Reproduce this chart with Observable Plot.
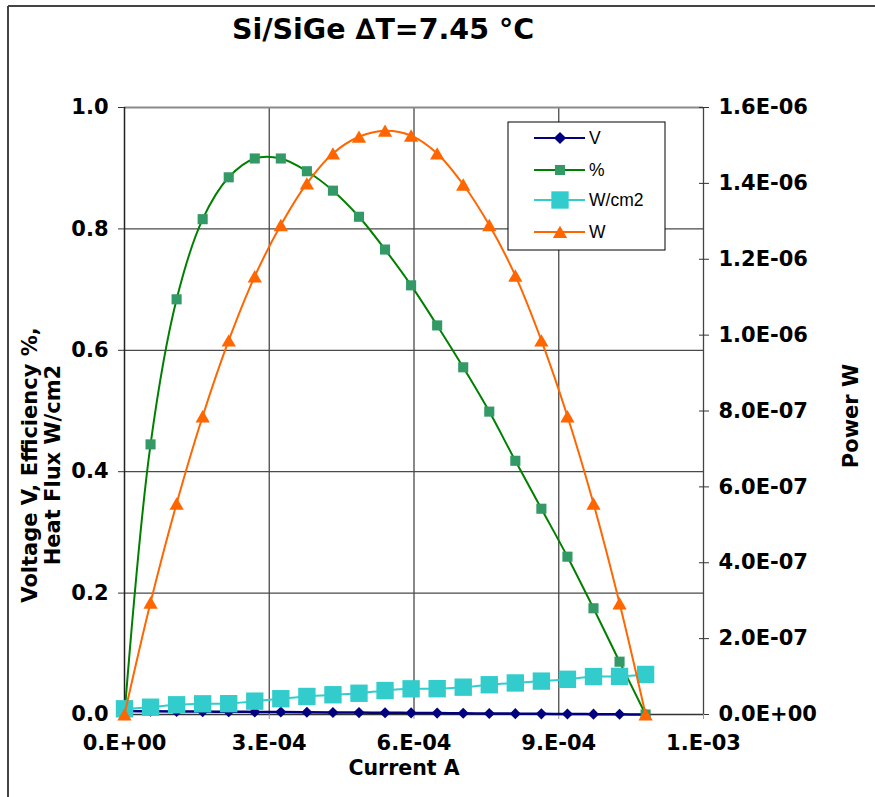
<!DOCTYPE html>
<html>
<head>
<meta charset="utf-8">
<script src="https://cdn.jsdelivr.net/npm/d3@7"></script>
<script src="https://cdn.jsdelivr.net/npm/@observablehq/plot@0.6"></script>
<style>
  html, body { margin: 0; padding: 0; background: #fff; }
  #wrap { position: relative; width: 875px; height: 797px; overflow: hidden; }
  #chart, #overlay { position: absolute; left: 0; top: 0; }
</style>
</head>
<body>
<div id="wrap">
  <div id="chart"></div>
  <svg id="overlay" width="875" height="797"></svg>
</div>
<script>
// ---- data ----
const current = [0, 0.000054, 0.000108, 0.000162, 0.000216, 0.00027, 0.000324, 0.000378, 0.000432, 0.000486,
  0.00054, 0.000594, 0.000648, 0.000702, 0.000756, 0.00081, 0.000864, 0.000918, 0.000972, 0.001026, 0.00108];
const voltage = [0.0057, 0.0054, 0.0051, 0.0048, 0.0046, 0.0043, 0.0040, 0.0037, 0.0034, 0.0031,
  0.0029, 0.0026, 0.0023, 0.0020, 0.0017, 0.0014, 0.0011, 0.0009, 0.0006, 0.0003, 0.0];
const efficiency = [0.0, 0.445, 0.684, 0.816, 0.885, 0.916, 0.916, 0.895, 0.863, 0.820,
  0.766, 0.707, 0.641, 0.572, 0.499, 0.418, 0.339, 0.260, 0.175, 0.087, 0.0];
const heatFlux = [0.0094, 0.012, 0.016, 0.0176, 0.0178, 0.022, 0.026, 0.0297, 0.0325, 0.035,
  0.0395, 0.0423, 0.0425, 0.045, 0.049, 0.052, 0.055, 0.058, 0.0625, 0.0628, 0.066];
const power = [0, 2.95e-7, 5.56e-7, 7.86e-7, 9.86e-7, 1.155e-6, 1.29e-6, 1.40e-6, 1.479e-6, 1.523e-6,
  1.539e-6, 1.526e-6, 1.479e-6, 1.397e-6, 1.29e-6, 1.157e-6, 9.86e-7, 7.86e-7, 5.56e-7, 2.93e-7, 0];

const xTicks = [0, 0.0003, 0.0006, 0.0009, 0.0012];
const xTickLabels = ["0.E+00", "3.E-04", "6.E-04", "9.E-04", "1.E-03"];
const leftTicks = [0, 0.2, 0.4, 0.6, 0.8, 1.0];
const leftTickLabels = ["0.0", "0.2", "0.4", "0.6", "0.8", "1.0"];
const powerTicks = [0, 2e-7, 4e-7, 6e-7, 8e-7, 1e-6, 1.2e-6, 1.4e-6, 1.6e-6];
const powerTickLabels = ["0.0E+00", "2.0E-07", "4.0E-07", "6.0E-07", "8.0E-07", "1.0E-06", "1.2E-06", "1.4E-06", "1.6E-06"];
const POWER_MAX = 1.6e-6;

const seriesNames = ["V", "%", "W/cm2", "W"];
const titleText = "Si/SiGe \u2206T=7.45 \u00B0C";
const xLabel = "Current A";
const leftLabelLines = ["Voltage V, Efficiency %,", "Heat Flux W/cm2"];
const rightLabel = "Power W";

// ---- styles ----
const C_V = "#000080", C_E_LINE = "#008000", C_E_MARK = "#339966", C_Q = "#33CCCC", C_P = "#FF6600";
const BOLD_FONT = "'DejaVu Sans', Verdana, sans-serif";

const rows = current.map((c, i) => ({c, v: voltage[i], e: efficiency[i], q: heatFlux[i], p: power[i]}));
const rightPos = powerTicks.map(p => p / POWER_MAX);

const chart = Plot.plot({
  width: 875, height: 797,
  marginTop: 107, marginBottom: 83, marginLeft: 124, marginRight: 172,
  style: {fontFamily: BOLD_FONT, fontSize: "21px", fontWeight: "bold", background: "transparent", color: "#000", overflow: "visible"},
  x: {domain: [0, 0.0012]},
  y: {domain: [0, 1]},
  marks: [
    Plot.gridY(leftTicks.slice(1, -1), {stroke: "#4a4a4a", strokeOpacity: 1, strokeWidth: 1.3}),
    Plot.gridX(xTicks.slice(1, -1), {stroke: "#4a4a4a", strokeOpacity: 1, strokeWidth: 1.3}),
    Plot.ruleY([1], {stroke: "#8a8a8a", strokeWidth: 2}),
    Plot.ruleY([0], {stroke: "#333", strokeWidth: 1.5}),
    Plot.ruleX([0], {stroke: "#222", strokeWidth: 1.5}),
    Plot.ruleX([0.0012], {stroke: "#444", strokeWidth: 1.3}),
    Plot.axisY(leftTicks, {anchor: "left", tickSize: 6, tickPadding: 10, stroke: "#333",
      tickFormat: d => leftTickLabels[leftTicks.indexOf(d)], label: null}),
    Plot.axisY(rightPos, {anchor: "right", tickSize: 10, insetRight: 5, tickPadding: 10, stroke: "#333",
      tickFormat: d => powerTickLabels[rightPos.indexOf(d)], label: null, textAnchor: "start"}),
    Plot.axisX(xTicks, {anchor: "bottom", tickSize: 5, tickPadding: 16, stroke: "#999",
      tickFormat: d => xTickLabels[xTicks.indexOf(d)], label: null}),
    // V
    Plot.line(rows, {x: "c", y: "v", stroke: C_V, strokeWidth: 2.5, curve: "catmull-rom"}),
    Plot.dot(rows, {x: "c", y: "v", symbol: "diamond2", r: 5, fill: C_V, stroke: "none"}),
    // %
    Plot.line(rows, {x: "c", y: "e", stroke: C_E_LINE, strokeWidth: 2, curve: "catmull-rom"}),
    Plot.dot(rows, {x: "c", y: "e", symbol: "square", r: 5.7, fill: C_E_MARK, stroke: "none"}),
    // W/cm2
    Plot.line(rows, {x: "c", y: "q", stroke: C_Q, strokeWidth: 2, curve: "catmull-rom"}),
    Plot.dot(rows, {x: "c", y: "q", symbol: "square", r: 9.8, fill: C_Q, stroke: "none"}),
    // W (right axis)
    Plot.line(rows, {x: "c", y: d => d.p / POWER_MAX, stroke: C_P, strokeWidth: 2, curve: "catmull-rom"}),
    Plot.dot(rows, {x: "c", y: d => d.p / POWER_MAX, symbol: "triangle", r: 5.3, dy: 2, fill: C_P, stroke: "none"})
  ]
});
document.getElementById("chart").appendChild(chart);

// ---- overlay: outer border, titles, legend ----
const ov = d3.select("#overlay");
ov.append("line").attr("x1", 8).attr("x2", 875).attr("y1", 6).attr("y2", 6).attr("stroke", "#444").attr("stroke-width", 2);
ov.append("line").attr("x1", 8).attr("x2", 8).attr("y1", 6).attr("y2", 797).attr("stroke", "#444").attr("stroke-width", 2);

const boldText = sel => sel.attr("font-family", BOLD_FONT).attr("font-weight", "bold").attr("fill", "#000");

boldText(ov.append("text")).attr("x", 383).attr("y", 39).attr("text-anchor", "middle")
  .attr("font-size", 28.5).text(titleText);

// x axis title
boldText(ov.append("text")).attr("x", 404).attr("y", 775).attr("text-anchor", "middle")
  .attr("font-size", 20.5).text(xLabel);

// left axis title (two lines, rotated)
const lt = boldText(ov.append("text")).attr("transform", "translate(41,465) rotate(-90)")
  .attr("text-anchor", "middle").attr("font-size", 21);
lt.append("tspan").attr("x", 0).attr("y", -4).text(leftLabelLines[0]);
lt.append("tspan").attr("x", 0).attr("y", 19).text(leftLabelLines[1]);

// right axis title
boldText(ov.append("text")).attr("transform", "translate(850,416) rotate(-90)")
  .attr("text-anchor", "middle").attr("y", 7.5).attr("font-size", 21).text(rightLabel);

// legend
const lg = ov.append("g");
lg.append("rect").attr("x", 508).attr("y", 122).attr("width", 157).attr("height", 128)
  .attr("fill", "#fff").attr("stroke", "#000").attr("stroke-width", 1);
const legendSpec = [
  {name: seriesNames[0], line: C_V, mark: C_V, sym: d3.symbolDiamond2, r: 5.5},
  {name: seriesNames[1], line: C_E_LINE, mark: C_E_MARK, sym: d3.symbolSquare, r: 5.7},
  {name: seriesNames[2], line: C_Q, mark: C_Q, sym: d3.symbolSquare, r: 9.8},
  {name: seriesNames[3], line: C_P, mark: C_P, sym: d3.symbolTriangle, r: 5.3}
];
const rowY = [138, 170, 200, 232];
legendSpec.forEach((s, i) => {
  const y = rowY[i];
  lg.append("line").attr("x1", 534).attr("x2", 585).attr("y1", y).attr("y2", y).attr("stroke", s.line).attr("stroke-width", 2);
  lg.append("path").attr("d", d3.symbol(s.sym, Math.PI * s.r * s.r)())
    .attr("transform", `translate(560,${y + (s.sym === d3.symbolTriangle ? 2 : 0)})`).attr("fill", s.mark);
  lg.append("text").attr("x", 589).attr("y", y).attr("dy", "0.36em")
    .attr("font-family", "'Liberation Sans', Arial, sans-serif").attr("font-size", 17.5).attr("fill", "#000").text(s.name);
});
</script>
</body>
</html>
